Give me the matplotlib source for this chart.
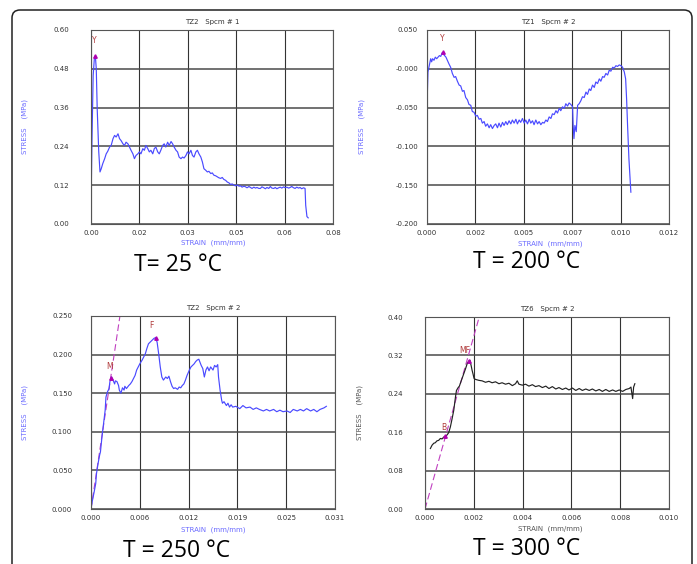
import numpy as np
import matplotlib
matplotlib.use('Agg')
import matplotlib.pyplot as plt
from matplotlib.patches import FancyBboxPatch

# ---- data ----
# T = 25 C  (TZ2 Spcm #1)
strain_25 = [0.0000, 0.0001, 0.0003, 0.0007, 0.0011, 0.0014, 0.0017, 0.0020, 0.0025, 0.0029,
             0.0033, 0.0038, 0.0044, 0.0049, 0.0054, 0.0060, 0.0065, 0.0071, 0.0076, 0.0081,
             0.0087, 0.0092, 0.0097, 0.0103, 0.0108, 0.0113, 0.0119, 0.0124, 0.0129, 0.0135,
             0.0140, 0.0145, 0.0151, 0.0156, 0.0161, 0.0167, 0.0172, 0.0177, 0.0183, 0.0188,
             0.0193, 0.0199, 0.0204, 0.0209, 0.0215, 0.0220, 0.0225, 0.0231, 0.0236, 0.0241,
             0.0247, 0.0252, 0.0258, 0.0263, 0.0268, 0.0274, 0.0279, 0.0284, 0.0290, 0.0295,
             0.0300, 0.0306, 0.0311, 0.0316, 0.0322, 0.0327, 0.0332, 0.0338, 0.0343, 0.0348,
             0.0354, 0.0359, 0.0364, 0.0370, 0.0375, 0.0380, 0.0386, 0.0391, 0.0396, 0.0402,
             0.0407, 0.0412, 0.0418, 0.0423, 0.0428, 0.0434, 0.0439, 0.0445, 0.0450, 0.0455,
             0.0461, 0.0466, 0.0471, 0.0477, 0.0482, 0.0487, 0.0493, 0.0498, 0.0503, 0.0509,
             0.0514, 0.0519, 0.0525, 0.0530, 0.0535, 0.0541, 0.0546, 0.0551, 0.0557, 0.0562,
             0.0567, 0.0573, 0.0578, 0.0583, 0.0589, 0.0594, 0.0599, 0.0605, 0.0610, 0.0615,
             0.0621, 0.0626, 0.0631, 0.0637, 0.0642, 0.0647, 0.0653, 0.0658, 0.0663, 0.0669,
             0.0674, 0.0679, 0.0685, 0.0690, 0.0692, 0.0696, 0.0700]
stress_25 = [0.007, 0.120, 0.254, 0.459, 0.515, 0.520, 0.480, 0.356, 0.223, 0.161,
             0.171, 0.187, 0.202, 0.217, 0.225, 0.238, 0.243, 0.264, 0.274, 0.269,
             0.279, 0.264, 0.258, 0.248, 0.243, 0.253, 0.248, 0.238, 0.228, 0.217,
             0.202, 0.212, 0.217, 0.223, 0.217, 0.233, 0.228, 0.243, 0.233, 0.223,
             0.228, 0.217, 0.233, 0.238, 0.223, 0.217, 0.228, 0.243, 0.248, 0.238,
             0.253, 0.243, 0.255, 0.248, 0.238, 0.228, 0.223, 0.207, 0.202, 0.207,
             0.204, 0.212, 0.223, 0.217, 0.228, 0.212, 0.207, 0.223, 0.228, 0.217,
             0.207, 0.192, 0.171, 0.166, 0.161, 0.163, 0.156, 0.158, 0.151, 0.149,
             0.146, 0.143, 0.141, 0.144, 0.138, 0.135, 0.130, 0.127, 0.122, 0.124,
             0.120, 0.118, 0.121, 0.117, 0.118, 0.114, 0.117, 0.115, 0.112, 0.116,
             0.113, 0.110, 0.114, 0.111, 0.113, 0.110, 0.110, 0.115, 0.112, 0.109,
             0.113, 0.110, 0.116, 0.111, 0.110, 0.113, 0.109, 0.112, 0.114, 0.111,
             0.115, 0.112, 0.114, 0.111, 0.113, 0.116, 0.112, 0.110, 0.114, 0.111,
             0.113, 0.109, 0.112, 0.110, 0.058, 0.023, 0.019]

# T = 200 C  (TZ1 Spcm #2)
strain_200 = [0.00000, 0.00002, 0.00005, 0.00010, 0.00016, 0.00019, 0.00024, 0.00029, 0.00036, 0.00043,
              0.00050, 0.00057, 0.00064, 0.00071, 0.00079, 0.00084, 0.00091, 0.00098, 0.00105, 0.00114,
              0.00122, 0.00131, 0.00140, 0.00148, 0.00157, 0.00166, 0.00174, 0.00183, 0.00191, 0.00200,
              0.00209, 0.00217, 0.00226, 0.00234, 0.00243, 0.00252, 0.00260, 0.00269, 0.00278, 0.00286,
              0.00295, 0.00303, 0.00312, 0.00321, 0.00329, 0.00338, 0.00347, 0.00355, 0.00364, 0.00372,
              0.00381, 0.00390, 0.00398, 0.00407, 0.00415, 0.00424, 0.00433, 0.00441, 0.00450, 0.00459,
              0.00467, 0.00476, 0.00484, 0.00493, 0.00502, 0.00510, 0.00519, 0.00528, 0.00536, 0.00545,
              0.00553, 0.00562, 0.00571, 0.00579, 0.00588, 0.00597, 0.00605, 0.00614, 0.00622, 0.00631,
              0.00640, 0.00648, 0.00657, 0.00666, 0.00674, 0.00683, 0.00691, 0.00700, 0.00709, 0.00717,
              0.00726, 0.00734, 0.00743, 0.00752, 0.00755, 0.00759, 0.00764, 0.00771, 0.00778, 0.00786,
              0.00795, 0.00803, 0.00812, 0.00821, 0.00829, 0.00838, 0.00846, 0.00855, 0.00864, 0.00872,
              0.00881, 0.00890, 0.00898, 0.00907, 0.00915, 0.00924, 0.00933, 0.00941, 0.00950, 0.00959,
              0.00967, 0.00976, 0.00984, 0.00993, 0.01002, 0.01010, 0.01019, 0.01026, 0.01031, 0.01036,
              0.01043, 0.01050, 0.01053]
stress_200 = [-0.073, -0.030, -0.004, 0.002, 0.009, 0.013, 0.009, 0.013, 0.011, 0.015,
              0.013, 0.015, 0.017, 0.016, 0.021, 0.019, 0.017, 0.015, 0.011, 0.006,
              0.002, -0.006, -0.011, -0.010, -0.016, -0.021, -0.022, -0.029, -0.028, -0.037,
              -0.040, -0.046, -0.047, -0.055, -0.056, -0.061, -0.060, -0.065, -0.064, -0.070,
              -0.068, -0.074, -0.071, -0.076, -0.072, -0.077, -0.073, -0.071, -0.076, -0.070,
              -0.075, -0.069, -0.073, -0.068, -0.072, -0.067, -0.071, -0.066, -0.070, -0.065,
              -0.071, -0.066, -0.069, -0.064, -0.070, -0.066, -0.071, -0.065, -0.070, -0.067,
              -0.072, -0.066, -0.071, -0.068, -0.072, -0.069, -0.070, -0.066, -0.068, -0.062,
              -0.064, -0.058, -0.059, -0.054, -0.057, -0.051, -0.054, -0.049, -0.051, -0.045,
              -0.048, -0.044, -0.046, -0.049, -0.073, -0.090, -0.073, -0.081, -0.047, -0.045,
              -0.041, -0.036, -0.037, -0.030, -0.033, -0.026, -0.028, -0.021, -0.024, -0.017,
              -0.019, -0.013, -0.016, -0.010, -0.011, -0.006, -0.008, -0.002, -0.003, 0.002,
              0.001, 0.004, 0.003, 0.005, 0.004, 0.002, -0.004, -0.013, -0.039, -0.073,
              -0.116, -0.146, -0.159]

# T = 250 C  (TZ2 Spcm #2)
strain_250 = [0.00004, 0.0002, 0.0004, 0.0006, 0.0007, 0.0009, 0.0011, 0.0012, 0.0014, 0.0016,
              0.0018, 0.0019, 0.0021, 0.0023, 0.0024, 0.0026, 0.0028, 0.0030, 0.0031, 0.0033,
              0.0035, 0.0036, 0.0038, 0.0040, 0.0042, 0.0043, 0.0045, 0.0048, 0.0050, 0.0052,
              0.0054, 0.0056, 0.0058, 0.0060, 0.0062, 0.0065, 0.0067, 0.0069, 0.0071, 0.0073,
              0.0075, 0.0077, 0.0080, 0.0082, 0.0084, 0.0086, 0.0088, 0.0090, 0.0092, 0.0095,
              0.0097, 0.0099, 0.0101, 0.0103, 0.0105, 0.0107, 0.0110, 0.0112, 0.0114, 0.0116,
              0.0118, 0.0120, 0.0122, 0.0125, 0.0127, 0.0129, 0.0131, 0.0133, 0.0135, 0.0137,
              0.0140, 0.0142, 0.0144, 0.0146, 0.0148, 0.0150, 0.0152, 0.0155, 0.0157, 0.0159,
              0.0161, 0.0162, 0.0164, 0.0166, 0.0167, 0.0169, 0.0172, 0.0174, 0.0176, 0.0178,
              0.0180, 0.0184, 0.0189, 0.0193, 0.0197, 0.0202, 0.0206, 0.0210, 0.0214, 0.0219,
              0.0223, 0.0227, 0.0232, 0.0236, 0.0240, 0.0244, 0.0249, 0.0253, 0.0257, 0.0262,
              0.0266, 0.0270, 0.0274, 0.0279, 0.0283, 0.0287, 0.0291, 0.0296, 0.0299]
stress_250 = [0.003, 0.012, 0.022, 0.033, 0.046, 0.059, 0.070, 0.074, 0.094, 0.111,
              0.128, 0.145, 0.152, 0.156, 0.165, 0.171, 0.167, 0.162, 0.166, 0.165,
              0.160, 0.154, 0.150, 0.157, 0.154, 0.159, 0.156, 0.160, 0.162, 0.165,
              0.169, 0.173, 0.180, 0.184, 0.188, 0.193, 0.197, 0.201, 0.208, 0.214,
              0.216, 0.218, 0.221, 0.222, 0.216, 0.201, 0.184, 0.171, 0.167, 0.171,
              0.169, 0.172, 0.165, 0.159, 0.156, 0.157, 0.155, 0.158, 0.157, 0.160,
              0.162, 0.167, 0.173, 0.180, 0.184, 0.186, 0.188, 0.191, 0.193, 0.194,
              0.186, 0.182, 0.171, 0.180, 0.184, 0.179, 0.184, 0.180, 0.186, 0.184,
              0.187, 0.171, 0.154, 0.141, 0.137, 0.139, 0.134, 0.137, 0.132, 0.135,
              0.132, 0.133, 0.130, 0.134, 0.131, 0.132, 0.129, 0.131, 0.129, 0.127,
              0.129, 0.127, 0.129, 0.126, 0.128, 0.126, 0.127, 0.125, 0.129, 0.127,
              0.129, 0.127, 0.130, 0.127, 0.129, 0.126, 0.129, 0.131, 0.133]

# T = 300 C  (TZ6 Spcm #2)
strain_300 = [0.00022, 0.00029, 0.00036, 0.00042, 0.00049, 0.00056, 0.00063, 0.00070, 0.00077, 0.00084,
              0.00090, 0.00097, 0.00104, 0.00111, 0.00118, 0.00125, 0.00129, 0.00136, 0.00141, 0.00147,
              0.00152, 0.00159, 0.00166, 0.00173, 0.00179, 0.00184, 0.00189, 0.00193, 0.00197, 0.00201,
              0.00207, 0.00221, 0.00234, 0.00248, 0.00262, 0.00275, 0.00289, 0.00303, 0.00316, 0.00330,
              0.00344, 0.00358, 0.00371, 0.00378, 0.00385, 0.00399, 0.00412, 0.00426, 0.00440, 0.00453,
              0.00467, 0.00481, 0.00495, 0.00508, 0.00522, 0.00536, 0.00549, 0.00563, 0.00577, 0.00590,
              0.00604, 0.00618, 0.00632, 0.00645, 0.00659, 0.00673, 0.00686, 0.00700, 0.00714, 0.00727,
              0.00741, 0.00755, 0.00769, 0.00782, 0.00796, 0.00810, 0.00823, 0.00837, 0.00844, 0.00851,
              0.00855, 0.00860]
stress_300 = [0.126, 0.133, 0.137, 0.138, 0.142, 0.143, 0.147, 0.146, 0.150, 0.152,
              0.154, 0.159, 0.171, 0.188, 0.206, 0.234, 0.247, 0.253, 0.256, 0.265,
              0.272, 0.282, 0.292, 0.303, 0.308, 0.310, 0.299, 0.289, 0.281, 0.272,
              0.270, 0.268, 0.267, 0.264, 0.266, 0.263, 0.265, 0.261, 0.263, 0.260,
              0.262, 0.257, 0.261, 0.267, 0.260, 0.258, 0.260, 0.256, 0.259, 0.255,
              0.257, 0.253, 0.256, 0.251, 0.255, 0.250, 0.253, 0.249, 0.252, 0.248,
              0.252, 0.247, 0.251, 0.247, 0.250, 0.247, 0.250, 0.246, 0.249, 0.245,
              0.249, 0.245, 0.248, 0.245, 0.248, 0.245, 0.249, 0.251, 0.254, 0.230,
              0.254, 0.261]

# modulus fit lines (dashed) and marker points
modulus_250 = 68.0
modulus_300 = 180.0

panels = [
    dict(title='TZ2   Spcm # 1', temp='T= 25 °C', x=strain_25, y=stress_25, xmax=0.078,
         ylim=(0.0, 0.60),
         xlabels=['0.00', '0.02', '0.03', '0.05', '0.06', '0.08'],
         ylabels=['0.00', '0.12', '0.24', '0.36', '0.48', '0.60'],
         marks=[('Y', 0.0014, 0.52, 0.0010, 0.566)], modulus=None),
    dict(title='TZ1   Spcm # 2', temp='T = 200 °C', x=strain_200, y=stress_200, xmax=0.0125,
         ylim=(-0.200, 0.050),
         xlabels=['0.000', '0.002', '0.005', '0.007', '0.010', '0.012'],
         ylabels=['-0.200', '-0.150', '-0.100', '-0.050', '-0.000', '0.050'],
         marks=[('Y', 0.00083, 0.0214, 0.00079, 0.0394)], modulus=None),
    dict(title='TZ2   Spcm # 2', temp='T = 250 °C', x=strain_250, y=stress_250, xmax=0.031,
         ylim=(0.0, 0.250),
         xlabels=['0.000', '0.006', '0.012', '0.019', '0.025', '0.031'],
         ylabels=['0.000', '0.050', '0.100', '0.150', '0.200', '0.250'],
         marks=[('M', 0.0026, 0.170, 0.0024, 0.185), ('F', 0.0082, 0.221, 0.0077, 0.238)],
         modulus=modulus_250),
    dict(title='TZ6   Spcm # 2', temp='T = 300 °C', x=strain_300, y=stress_300, xmax=0.010,
         ylim=(0.0, 0.40),
         xlabels=['0.000', '0.002', '0.004', '0.006', '0.008', '0.010'],
         ylabels=['0.00', '0.08', '0.16', '0.24', '0.32', '0.40'],
         marks=[('B', 0.00084, 0.152, 0.00077, 0.170), ('MF', 0.00179, 0.308, 0.00163, 0.331)],
         modulus=modulus_300),
]

# layout (figure fractions), colours
W, H = 697, 564
rects = [[91 / W, 1 - 224 / H, 242 / W, 194 / H],
         [427 / W, 1 - 224 / H, 242 / W, 194 / H],
         [91 / W, 1 - 509 / H, 244 / W, 193 / H],
         [425 / W, 1 - 509 / H, 244 / W, 192 / H]]
ypads = [16, 6.5, 13.5, 16]
ylab_pos = [(25, 127), (362, 127), (25, 413), (360, 412)]
xlab_pos = [(213, 243), (550, 244), (213, 530), (550, 529)]
temp_pos = [(178, 265), (527, 262), (177, 551), (527, 549)]
line_cols = ['#4a4aff', '#4a4aff', '#4a4aff', '#222222']
lab_cols = ['#6b6bff', '#6b6bff', '#6b6bff', '#555555']

fig = plt.figure(figsize=(W / 100, H / 100), dpi=100)

# rounded frame round the whole figure (runs off the bottom)
frame = FancyBboxPatch((0.12, -0.5), 6.80, 6.04, boxstyle='round,pad=0,rounding_size=0.08',
                       transform=fig.dpi_scale_trans, fill=False, ec='#222222', lw=1.1)
fig.add_artist(frame)

for i, p in enumerate(panels):
    ax = fig.add_axes(rects[i])
    ax.set_xlim(0, p['xmax'])
    ax.set_ylim(*p['ylim'])
    ax.set_xticks(np.linspace(0, p['xmax'], 6))
    ax.set_xticklabels(p['xlabels'])
    ax.set_yticks(np.linspace(p['ylim'][0], p['ylim'][1], 6))
    ax.set_yticklabels(p['ylabels'])
    ax.tick_params(length=0, labelsize=5, colors='#333333')
    ax.tick_params(axis='y', pad=ypads[i])
    ax.tick_params(axis='x', pad=4)
    ax.xaxis.grid(True, color='#333333', lw=0.8)
    ax.yaxis.grid(True, color='#4a4a4a', lw=1.1)
    for s in ax.spines.values():
        s.set_color('#555555')
        s.set_linewidth(0.8)

    if p['modulus'] is not None:
        xs = np.array([0, p['xmax']])
        ax.plot(xs, p['modulus'] * xs, ls=(0, (6, 3)), color='#c040c0', lw=0.8)
    ax.plot(p['x'], p['y'], color=line_cols[i], lw=0.85)
    for lab, mx, my, tx, ty in p['marks']:
        ax.plot(mx, my, marker='^', ms=2.5, color='#b000b0', ls='none')
        ax.text(tx, ty, lab, fontsize=5.5, color='#b03a3a', ha='center', va='center')

    ax.set_title(p['title'], fontsize=5, color='#333333', pad=4)
    fig.text(ylab_pos[i][0] / W, 1 - ylab_pos[i][1] / H, 'STRESS    (MPa)', rotation=90,
             fontsize=5, color=lab_cols[i], ha='center', va='center')
    fig.text(xlab_pos[i][0] / W, 1 - xlab_pos[i][1] / H, 'STRAIN  (mm/mm)',
             fontsize=5, color=lab_cols[i], ha='center', va='center')
    fig.text(temp_pos[i][0] / W, 1 - temp_pos[i][1] / H, p['temp'], family='Open Sans',
             fontsize=16.5, color='black', ha='center', va='center')

fig.savefig('out.png', dpi=100)
